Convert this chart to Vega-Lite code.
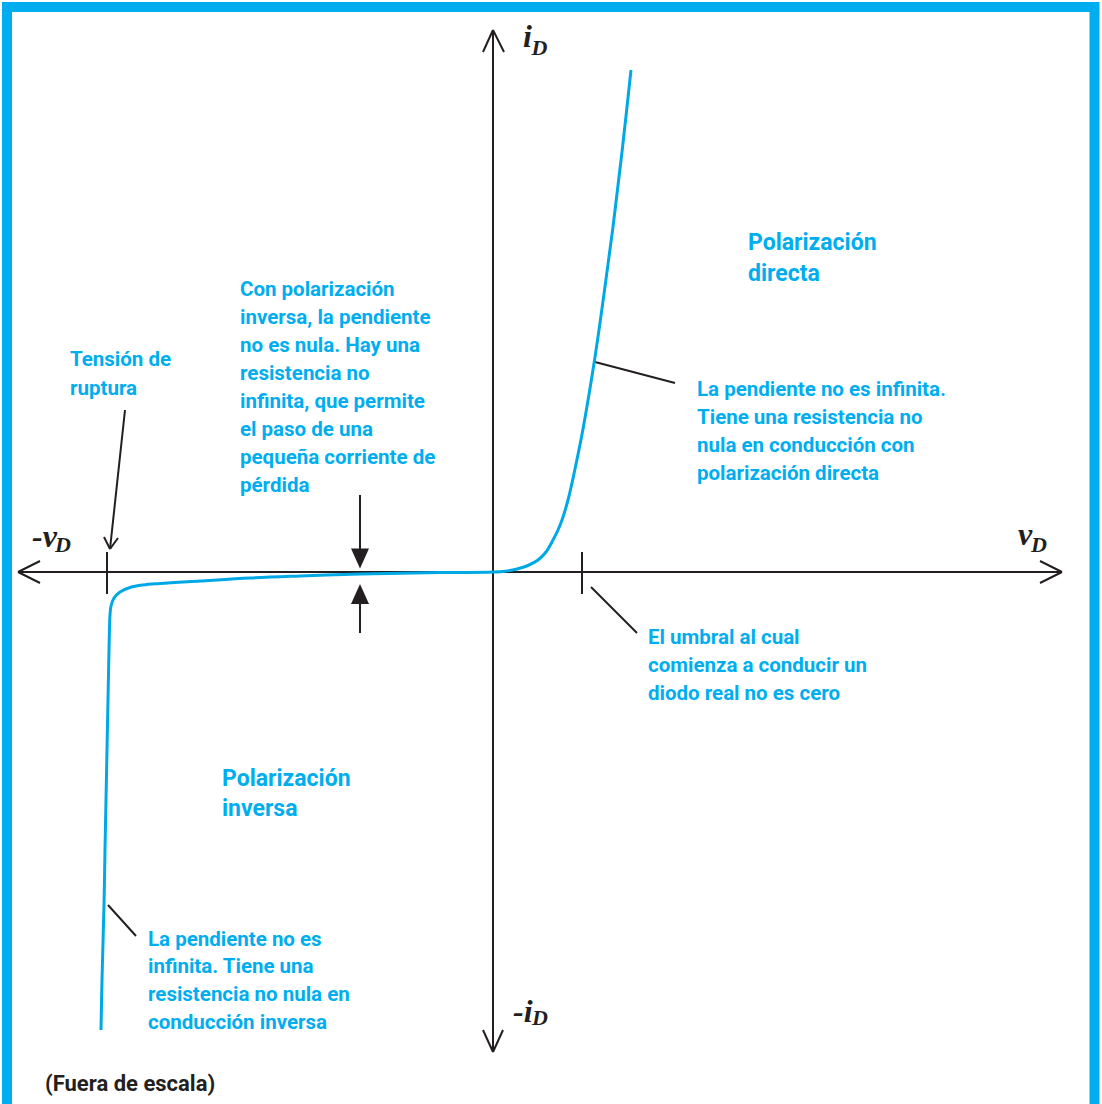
{
  "$schema": "https://vega.github.io/schema/vega-lite/v6.json",
  "width": 1102,
  "height": 1104,
  "padding": 0,
  "autosize": {"type": "none"},
  "background": "white",
  "config": {"view": {"stroke": null}},
  "datasets": {
    "frame": [
      {"i": 0, "x": -4.86, "y": -5.4},
      {"i": 1, "x": -4.86, "y": 5.65},
      {"i": 2, "x": 6.015, "y": 5.65},
      {"i": 3, "x": 6.015, "y": -5.4}
    ],
    "curve": [
      {"i": 0, "x": -3.92, "y": -4.58},
      {"i": 1, "x": -3.91, "y": -4.08},
      {"i": 2, "x": -3.89, "y": -3.33},
      {"i": 3, "x": -3.88, "y": -2.78},
      {"i": 4, "x": -3.86, "y": -1.78},
      {"i": 5, "x": -3.84, "y": -0.78},
      {"i": 6, "x": -3.83, "y": -0.43},
      {"i": 7, "x": -3.82, "y": -0.34},
      {"i": 8, "x": -3.79, "y": -0.26},
      {"i": 9, "x": -3.73, "y": -0.2},
      {"i": 10, "x": -3.63, "y": -0.155},
      {"i": 11, "x": -3.5, "y": -0.13},
      {"i": 12, "x": -3.33, "y": -0.115},
      {"i": 13, "x": -2.93, "y": -0.09},
      {"i": 14, "x": -2.43, "y": -0.06},
      {"i": 15, "x": -1.93, "y": -0.04},
      {"i": 16, "x": -1.33, "y": -0.02},
      {"i": 17, "x": -0.93, "y": -0.013},
      {"i": 18, "x": -0.53, "y": -0.006},
      {"i": 19, "x": 0, "y": 0},
      {"i": 20, "x": 0.12, "y": 0.008},
      {"i": 21, "x": 0.24, "y": 0.03},
      {"i": 22, "x": 0.35, "y": 0.065},
      {"i": 23, "x": 0.45, "y": 0.12},
      {"i": 24, "x": 0.53, "y": 0.2},
      {"i": 25, "x": 0.6, "y": 0.32},
      {"i": 26, "x": 0.65, "y": 0.42},
      {"i": 27, "x": 0.69, "y": 0.52},
      {"i": 28, "x": 0.75, "y": 0.72},
      {"i": 29, "x": 0.82, "y": 1.03},
      {"i": 30, "x": 0.9, "y": 1.43},
      {"i": 31, "x": 1.02, "y": 2.15},
      {"i": 32, "x": 1.11, "y": 2.78},
      {"i": 33, "x": 1.2, "y": 3.45},
      {"i": 34, "x": 1.29, "y": 4.2},
      {"i": 35, "x": 1.38, "y": 5.02}
    ],
    "segments": [
      {"part": "eje v", "x": -4.75, "y": 0, "x2": 5.69, "y2": 0},
      {"part": "eje i", "x": 0, "y": 5.42, "x2": 0, "y2": -4.8},
      {"part": "flecha -v", "x": -4.75, "y": 0, "x2": -4.53, "y2": 0.11},
      {"part": "flecha -v", "x": -4.75, "y": 0, "x2": -4.53, "y2": -0.11},
      {"part": "flecha v", "x": 5.69, "y": 0, "x2": 5.47, "y2": 0.11},
      {"part": "flecha v", "x": 5.69, "y": 0, "x2": 5.47, "y2": -0.11},
      {"part": "flecha i", "x": 0, "y": 5.42, "x2": -0.1, "y2": 5.2},
      {"part": "flecha i", "x": 0, "y": 5.42, "x2": 0.11, "y2": 5.2},
      {"part": "flecha -i", "x": 0, "y": -4.8, "x2": -0.1, "y2": -4.58},
      {"part": "flecha -i", "x": 0, "y": -4.8, "x2": 0.1, "y2": -4.58},
      {"part": "marca ruptura", "x": -3.86, "y": 0.2, "x2": -3.86, "y2": -0.22},
      {"part": "marca umbral", "x": 0.89, "y": 0.2, "x2": 0.89, "y2": -0.22},
      {"part": "guia directa", "x": 1.02, "y": 2.1, "x2": 1.82, "y2": 1.89},
      {"part": "guia umbral", "x": 0.98, "y": -0.15, "x2": 1.44, "y2": -0.61},
      {"part": "guia inversa", "x": -3.85, "y": -3.33, "x2": -3.57, "y2": -3.64},
      {"part": "guia ruptura", "x": -3.68, "y": 1.62, "x2": -3.83, "y2": 0.23},
      {"part": "punta ruptura", "x": -3.89, "y": 0.35, "x2": -3.83, "y2": 0.23},
      {"part": "punta ruptura", "x": -3.75, "y": 0.34, "x2": -3.83, "y2": 0.23},
      {"part": "fuga arriba", "x": -1.33, "y": 0.77, "x2": -1.33, "y2": 0.21},
      {"part": "fuga abajo", "x": -1.33, "y": -0.3, "x2": -1.33, "y2": -0.61}
    ],
    "headsDown": [{"x": -1.33, "y": 0.135}],
    "headsUp": [{"x": -1.33, "y": -0.22}],
    "notes": [
      {"x": -4.23, "y": 2.12, "text": "Tensión de"},
      {"x": -4.23, "y": 1.83, "text": "ruptura"},
      {"x": -2.53, "y": 2.82, "text": "Con polarización"},
      {"x": -2.53, "y": 2.54, "text": "inversa, la pendiente"},
      {"x": -2.53, "y": 2.26, "text": "no es nula. Hay una"},
      {"x": -2.53, "y": 1.98, "text": "resistencia no"},
      {"x": -2.53, "y": 1.7, "text": "infinita, que permite"},
      {"x": -2.53, "y": 1.42, "text": "el paso de una"},
      {"x": -2.53, "y": 1.14, "text": "pequeña corriente de"},
      {"x": -2.53, "y": 0.86, "text": "pérdida"},
      {"x": 2.04, "y": 1.82, "text": "La pendiente no es infinita."},
      {"x": 2.04, "y": 1.54, "text": "Tiene una resistencia no"},
      {"x": 2.04, "y": 1.26, "text": "nula en conducción con"},
      {"x": 2.04, "y": 0.98, "text": "polarización directa"},
      {"x": 1.55, "y": -0.66, "text": "El umbral al cual"},
      {"x": 1.55, "y": -0.94, "text": "comienza a conducir un"},
      {"x": 1.55, "y": -1.22, "text": "diodo real no es cero"},
      {"x": -3.45, "y": -3.68, "text": "La pendiente no es"},
      {"x": -3.45, "y": -3.95, "text": "infinita. Tiene una"},
      {"x": -3.45, "y": -4.23, "text": "resistencia no nula en"},
      {"x": -3.45, "y": -4.51, "text": "conducción inversa"}
    ],
    "regions": [
      {"x": 2.55, "y": 3.29, "text": "Polarización"},
      {"x": 2.55, "y": 2.98, "text": "directa"},
      {"x": -2.71, "y": -2.07, "text": "Polarización"},
      {"x": -2.71, "y": -2.37, "text": "inversa"}
    ],
    "footnote": [{"x": -4.48, "y": -5.12, "text": "(Fuera de escala)"}],
    "axisNames": [
      {"x": 0.3, "y": 5.25, "text": "i"},
      {"x": 5.25, "y": 0.27, "text": "v"},
      {"x": -4.61, "y": 0.25, "text": "-v"},
      {"x": 0.2, "y": -4.5, "text": "-i"}
    ],
    "axisSubs": [
      {"x": 0.385, "y": 5.17, "text": "D"},
      {"x": 5.38, "y": 0.2, "text": "D"},
      {"x": -4.38, "y": 0.2, "text": "D"},
      {"x": 0.39, "y": -4.53, "text": "D"}
    ]
  },
  "encoding": {
    "x": {"field": "x", "type": "quantitative", "axis": null,
          "scale": {"domain": [-4.93, 6.09], "nice": false, "zero": false}},
    "y": {"field": "y", "type": "quantitative", "axis": null,
          "scale": {"domain": [-5.32, 5.72], "nice": false, "zero": false}}
  },
  "layer": [
    {
      "data": {"name": "frame"},
      "mark": {"type": "line", "color": "#00AEEF", "strokeWidth": 10, "strokeJoin": "miter", "strokeCap": "butt"},
      "encoding": {"order": {"field": "i", "type": "quantitative"}}
    },
    {
      "data": {"name": "segments"},
      "mark": {"type": "rule", "color": "#231F20", "strokeWidth": 2},
      "encoding": {
        "x2": {"field": "x2"},
        "y2": {"field": "y2"}
      }
    },
    {
      "data": {"name": "headsDown"},
      "mark": {"type": "point", "shape": "M-0.9,-1L0.9,-1L0,1Z", "size": 400, "filled": true, "color": "#231F20", "opacity": 1}
    },
    {
      "data": {"name": "headsUp"},
      "mark": {"type": "point", "shape": "M-0.9,1L0.9,1L0,-1Z", "size": 400, "filled": true, "color": "#231F20", "opacity": 1}
    },
    {
      "data": {"name": "curve"},
      "mark": {"type": "line", "color": "#00A8E6", "strokeWidth": 3, "interpolate": "catmull-rom"},
      "encoding": {"order": {"field": "i", "type": "quantitative"}}
    },
    {
      "data": {"name": "notes"},
      "mark": {"type": "text", "align": "left", "baseline": "middle", "font": "Roboto", "fontWeight": "bold", "fontSize": 20.5, "color": "#00AEEF"},
      "encoding": {"text": {"field": "text"}}
    },
    {
      "data": {"name": "regions"},
      "mark": {"type": "text", "align": "left", "baseline": "middle", "font": "Roboto", "fontWeight": "bold", "fontSize": 23, "color": "#00AEEF"},
      "encoding": {"text": {"field": "text"}}
    },
    {
      "data": {"name": "footnote"},
      "mark": {"type": "text", "align": "left", "baseline": "middle", "font": "Roboto", "fontWeight": "bold", "fontSize": 22, "color": "#231F20"},
      "encoding": {"text": {"field": "text"}}
    },
    {
      "data": {"name": "axisNames"},
      "mark": {"type": "text", "align": "left", "baseline": "alphabetic", "font": "Liberation Serif, serif", "fontWeight": "bold", "fontStyle": "italic", "fontSize": 32, "color": "#231F20"},
      "encoding": {"text": {"field": "text"}}
    },
    {
      "data": {"name": "axisSubs"},
      "mark": {"type": "text", "align": "left", "baseline": "alphabetic", "font": "Liberation Serif, serif", "fontWeight": "bold", "fontStyle": "italic", "fontSize": 22, "color": "#231F20"},
      "encoding": {"text": {"field": "text"}}
    }
  ]
}
